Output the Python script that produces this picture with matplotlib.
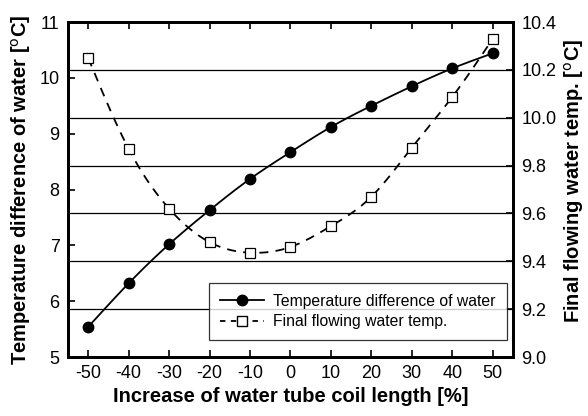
import numpy as np
import matplotlib
matplotlib.use('Agg')
import matplotlib.pyplot as plt

plt.rcParams['font.family'] = ['Liberation Sans', 'DejaVu Sans']
plt.rcParams['axes.unicode_minus'] = False

# data
length_inc = [-50, -40, -30, -20, -10, 0, 10, 20, 30, 40, 50]
temp_diff = [5.54, 6.32, 7.02, 7.63, 8.19, 8.67, 9.12, 9.50, 9.85, 10.17, 10.44]
final_temp = [10.25, 9.87, 9.62, 9.48, 9.436, 9.46, 9.547, 9.67, 9.875, 10.087, 10.33]


def spline(x, y, n=20):
    # natural cubic spline, only used to draw a smooth line through the points
    x = np.asarray(x, float)
    y = np.asarray(y, float)
    h = np.diff(x)
    m = len(x)
    A = np.zeros((m, m))
    b = np.zeros(m)
    A[0, 0] = A[-1, -1] = 1
    for i in range(1, m - 1):
        A[i, i - 1] = h[i - 1]
        A[i, i] = 2 * (h[i - 1] + h[i])
        A[i, i + 1] = h[i]
        b[i] = 6 * ((y[i + 1] - y[i]) / h[i] - (y[i] - y[i - 1]) / h[i - 1])
    M = np.linalg.solve(A, b)
    xs, ys = [], []
    for i in range(m - 1):
        t = np.linspace(x[i], x[i + 1], n, endpoint=(i == m - 2))
        a = x[i + 1] - t
        c = t - x[i]
        s = (M[i] * a ** 3 + M[i + 1] * c ** 3) / (6 * h[i]) \
            + (y[i] / h[i] - M[i] * h[i] / 6) * a + (y[i + 1] / h[i] - M[i + 1] * h[i] / 6) * c
        xs.append(t)
        ys.append(s)
    return np.concatenate(xs), np.concatenate(ys)


fig = plt.figure(figsize=(5.88, 4.16), dpi=100)
ax = fig.add_axes([0.1156, 0.1418, 0.7568, 0.8052])
ax2 = ax.twinx()

# grid lines follow the right axis ticks
for v in [9.2, 9.4, 9.6, 9.8, 10.0, 10.2]:
    ax2.axhline(v, color='black', lw=0.9, zorder=0)

sx, sy = spline(length_inc, temp_diff)
ax.plot(sx, sy, color='black', lw=1.3, zorder=3)
ax.plot(length_inc, temp_diff, 'o', color='black', ms=7.5, zorder=4)

fx, fy = spline(length_inc, final_temp)
ax2.plot(fx, fy, color='black', lw=1.3, dashes=(5, 4), zorder=3)
ax2.plot(length_inc, final_temp, 's', mfc='white', mec='black', mew=0.9, ms=7.5, zorder=4)

ax.set_xlim(-55, 55)
ax.set_ylim(5, 11)
ax2.set_ylim(9.0, 10.4)
ax.set_xticks(length_inc)
ax.set_yticks(range(5, 12))
ax2.set_yticks(np.arange(9.0, 10.41, 0.2))
ax2.set_yticklabels(['%.1f' % v for v in np.arange(9.0, 10.41, 0.2)])

ax.tick_params(axis='both', direction='in', length=5, width=1.2, labelsize=13, top=True, pad=6)
ax2.tick_params(axis='y', direction='in', length=5, width=1.2, labelsize=13, pad=6)
for a in (ax, ax2):
    for sp in a.spines.values():
        sp.set_linewidth(2)

ax.set_xlabel('Increase of water tube coil length [%]', fontsize=14.5, fontweight='bold', labelpad=3)
ax.set_ylabel('Temperature difference of water [$^{\\rm o}$C]', fontsize=14.5, fontweight='bold', labelpad=5)
ax2.set_ylabel('Final flowing water temp. [$^{\\rm o}$C]', fontsize=14.5, fontweight='bold', labelpad=4)
ax2.yaxis.label.set_y(0.525)

h1 = plt.Line2D([], [], color='black', lw=1.3, marker='o', ms=7.5)
h2 = plt.Line2D([], [], color='black', lw=1.3, dashes=(3, 3), marker='s', mfc='white', mec='black', ms=7.5)
leg = ax2.legend([h1, h2], ['Temperature difference of water', 'Final flowing water temp.'],
                 loc='lower right', bbox_to_anchor=(0.9865, 0.05), borderaxespad=0, fontsize=11.3,
                 frameon=True, fancybox=False, edgecolor='black', handlelength=2.8, handletextpad=0.6,
                 borderpad=0.7, labelspacing=0.35)
leg.get_frame().set_linewidth(0.9)
leg.set_zorder(5)

fig.savefig('out.png', dpi=100)
